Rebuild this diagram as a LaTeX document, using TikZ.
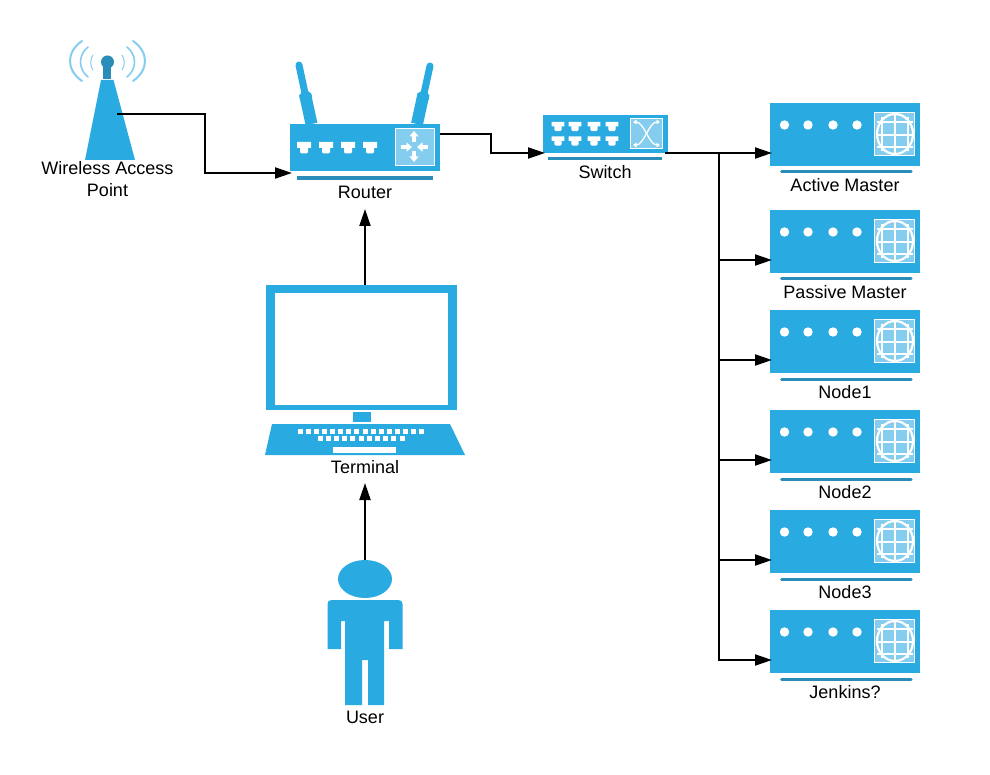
\documentclass[tikz,border=0pt]{standalone}
\usepackage{fontspec}
\setmainfont{Liberation Sans}
\usetikzlibrary{arrows.meta,shapes.geometric}
\definecolor{cblue}{HTML}{29ABE2}
\definecolor{cdark}{HTML}{2A8CB8}
\definecolor{clight}{HTML}{84CDEE}
\tikzset{
  lbl/.style={font=\fontsize{18}{22}\selectfont,text=black,inner sep=0pt,align=center},
  arr/.style={line width=2pt,-{Triangle[length=17pt,width=11pt]},black},
  wire/.style={line width=2pt,black},
  bodybox/.style={fill=cblue,draw=none,inner sep=0pt,outer sep=0pt},
  keyb/.style={fill=white,draw=none},
  port/.pic={\fill[white] (-7,-5.5) -- (7,-5.5) -- (7,0.5) -- (4,0.5) -- (4,4.5) -- (3,5.8) -- (-3,5.8) -- (-4,4.5) -- (-4,0.5) -- (-7,0.5) -- cycle;},
  sport/.pic={\fill[white] (-6.3,-4.5) -- (6.3,-4.5) -- (6.3,0) -- (3.6,0) -- (3.6,3.2) -- (2.4,4.6) -- (-2.4,4.6) -- (-3.6,3.2) -- (-3.6,0) -- (-6.3,0) -- cycle;},
  wtip/.style={-{Triangle[length=5.5pt,width=9pt]},white,line width=3.4pt},
  stip/.style={{Triangle[length=3.5pt,width=4.5pt]}-{Triangle[length=3.5pt,width=4.5pt]},white,line width=1.3pt},
  serverdeco/.pic={
    \foreach \dx in {14.5,38,63,87}{\fill[white] (\dx,22) circle (4.7);}
    \fill[clight] (104,9) rectangle (145,53);
    \draw[white,line width=1.4pt] (104.7,9.7) rectangle (144.3,52.3);
    \draw[white,line width=1.4pt] (125,11) -- (125,51) (112,14) -- (112,48) (138,14) -- (138,48)
      (107,19) -- (143,19) (107,32) -- (143,32) (107,44) -- (143,44);
    \draw[white,line width=2.2pt] (125,31) ellipse (18 and 20);
    \draw[cdark,line width=3pt,line cap=round] (11.5,69) -- (141,69);
  },
  wave/.style={clight,line width=1.6pt,line cap=round},
}
\begin{document}
\begin{tikzpicture}[x=1pt,y=-1pt]
\useasboundingbox (0,0) rectangle (990,775);
\fill[white] (0,0) rectangle (990,775);

% ---- Wireless access point
\draw[wave,line width=2pt] (82,41) .. controls (66,52) and (66,70) .. (82,81);
\draw[wave] (88,47) .. controls (78,55) and (78,69) .. (88,77);
\draw[wave,line width=1pt] (93,55) .. controls (90,59) and (90,66) .. (93,70);
\draw[wave,line width=2pt] (133,41) .. controls (149,52) and (149,70) .. (133,81);
\draw[wave] (127,47) .. controls (137,55) and (137,69) .. (127,77);
\draw[wave,line width=1pt] (122,55) .. controls (125,59) and (125,66) .. (122,70);
\fill[cdark] (103,62) rectangle (111,79);
\fill[cdark] (107.5,62) circle (6.5);
\fill[cblue] (101,80) -- (113.5,80) -- (135,160) -- (85,160) -- cycle;
\coordinate (apout) at (117,114);
\node[lbl] (aplabel) at (107.5,179) {Wireless Access\\Point};

% ---- Router
\draw[cblue,line width=7pt,line cap=round] (299,65) -- (306,98);
\draw[cblue,line width=12pt,line cap=round] (305.5,97) -- (306,97);
\draw[cblue,line width=12pt] (305,94) -- (311.5,124);
\draw[cblue,line width=7pt,line cap=round] (430,66) -- (423,98);
\draw[cblue,line width=12pt,line cap=round] (423,97) -- (423.2,97);
\draw[cblue,line width=12pt] (423.5,94) -- (417,124);
\node[bodybox,minimum width=150pt,minimum height=47pt] (router) at (365,147.5) {};
\foreach \px in {304,326,348,370}{\pic at (\px,147.5) {port};}
\fill[clight] (395,128) rectangle (435,166);
\draw[white,line width=1.2pt] (395.6,128.6) rectangle (434.4,165.4);
\draw[wtip] (414,142.5) -- (414,131);
\draw[wtip] (414,151) -- (414,162);
\draw[wtip] (401,147) -- (412,147);
\draw[wtip] (428,147) -- (417,147);
\fill[cdark] (297,176) rectangle (433,180);
\node[lbl] (routerlabel) at (365,192.5) {Router};
\coordinate (routerin) at (292,173);
\coordinate (routerout) at (440,134);
\coordinate (routerbottom) at (365,209);

% ---- Switch
\node[bodybox,minimum width=125pt,minimum height=38pt] (switch) at (605,134) {};
\foreach \px in {558,575,594,612}{
  \pic at (\px,126.5) {sport};
  \pic at (\px,141) {sport};
}
\fill[clight] (630,118) rectangle (663,149);
\draw[white,line width=1pt] (630.5,118.5) rectangle (662.5,148.5);
\draw[stip] (633,122) .. controls (644,122) and (649,145) .. (660,145);
\draw[stip] (633,145) .. controls (644,145) and (649,122) .. (660,122);
\fill[cdark] (548,157) rectangle (662,160);
\node[lbl] (switchlabel) at (605,172.5) {Switch};
\coordinate (switchin) at (545,153);
\coordinate (switchout) at (665,153);

% ---- Servers
\foreach \nm/\top/\txt in {s1/103/Active Master,s2/210/Passive Master,s3/310/Node1,s4/410/Node2,s5/510/Node3,s6/610/Jenkins?}{
  \node[bodybox,minimum width=150pt,minimum height=63pt] (\nm) at (845,\top+31.5) {};
  \pic at (770,\top) {serverdeco};
  \node[lbl] (\nm label) at (845,\top+82.5) {\txt};
  \coordinate (\nm in) at (772,\top+50);
  \coordinate (\nm bus) at (719,\top+50);
}

% ---- Terminal
\fill[cblue] (266,285) rectangle (457,410);
\fill[white] (275,293) rectangle (448,405);
\coordinate (termtop) at (365,285);
\fill[cblue] (353,412) rectangle (371,422);
\fill[cblue] (272,424) -- (450,424) -- (465,455) -- (265,455) -- cycle;
\foreach \i in {0,...,15}{\fill[keyb] ({298+\i*8.07},429) rectangle ++(5,4.5);}
\foreach \i in {0,...,10}{\fill[keyb] ({317.5+\i*8.2},436) rectangle ++(5,4.5);}
\fill[keyb] (333,447) rectangle (396,453);
\node[lbl] (termlabel) at (365,467.5) {Terminal};
\coordinate (termbottom) at (365,483);

% ---- User
\fill[cblue] (327.5,604) .. controls (327.5,601) and (329,600) .. (332,600) -- (398,600)
  .. controls (401,600) and (402.5,601) .. (402.5,604) -- (402.5,649) -- (389,649) -- (389,621) -- (384,621)
  -- (384,705) -- (368,705) -- (368,660) -- (362,660) -- (362,705) -- (345,705) -- (345,621) -- (341,621)
  -- (341,649) -- (327.5,649) -- cycle;
\node[ellipse,fill=cblue,draw=none,inner sep=0pt,outer sep=0pt,minimum width=54pt,minimum height=38pt] (userhead) at (365,579) {};
\node[lbl] (userlabel) at (365,717.5) {User};

% ---- Connectors
\draw[arr] (apout) -- (205,114) -- (205,173) -- (routerin);
\draw[arr] (routerout) -- (491,134) -- (491,153) -- (switchin);
\draw[arr] (termtop) -- (routerbottom);
\draw[arr] (userhead.north) -- (termbottom);
\draw[wire] (719,153) -- (719,661);
\draw[wire] (switchout) -- (719,153);
\foreach \nm in {s1,s2,s3,s4,s5,s6}{\draw[arr] (\nm bus) -- (\nm in);}
\end{tikzpicture}
\end{document}
